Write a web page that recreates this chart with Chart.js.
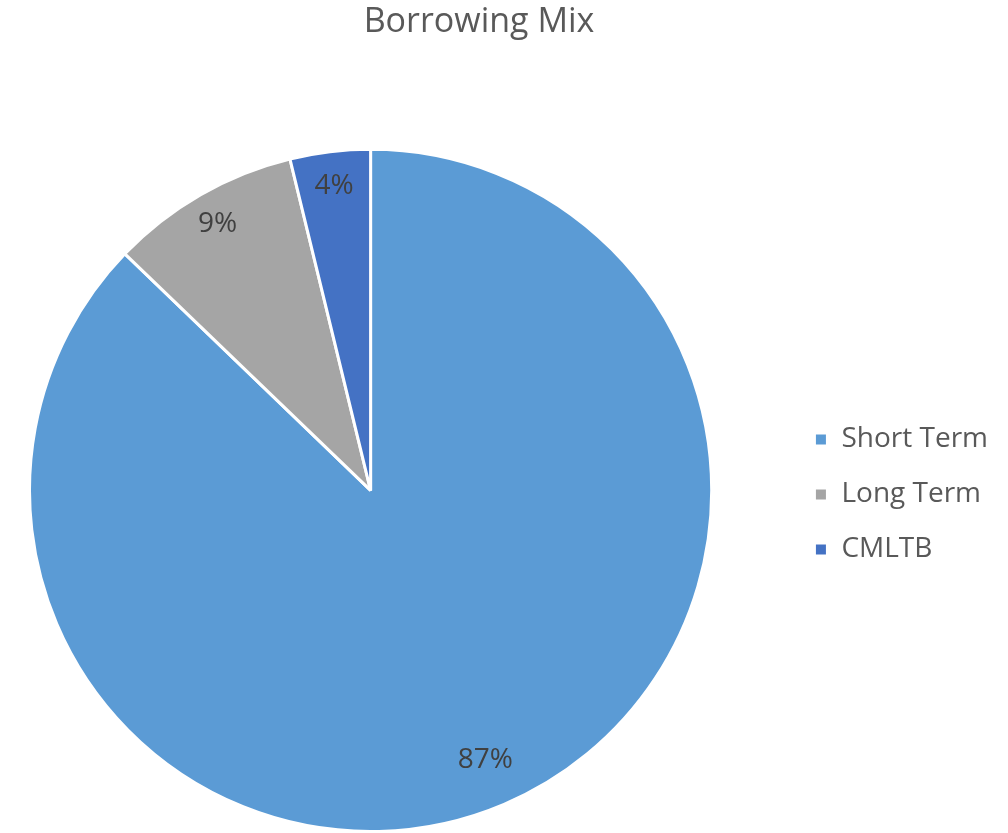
<!DOCTYPE html>
<html>
<head>
<meta charset="utf-8">
<title>Borrowing Mix</title>
<script src="https://cdn.jsdelivr.net/npm/chart.js@4.4.1/dist/chart.umd.min.js"></script>
<style>
  html, body { margin: 0; padding: 0; background: #ffffff; }
  #wrap { width: 1008px; height: 833px; position: relative; }
</style>
</head>
<body>
<div id="wrap"><canvas id="mixChart"></canvas></div>
<script>
// data (share of total borrowing, %)
const categories = ['Short Term', 'Long Term', 'CMLTB'];
const shares = [87.2, 9.0, 3.8];
const sliceColors = ['#5B9BD5', '#A5A5A5', '#4472C4'];

const FONT = "'Open Sans', 'Noto Sans', sans-serif";

// keep the pie square on the left, title centred over pie + legend
const layoutFix = {
    id: 'layoutFix',
    afterLayout(chart) {
        const area = chart.chartArea;
        area.right = area.left + area.bottom - area.top;
        area.width = area.right - area.left;
        if (chart.titleBlock) {
            chart.titleBlock.left = 0;
            chart.titleBlock.right = 958;
            chart.titleBlock.width = 958;
        }
        if (chart.legend) {
            chart.legend.top += 4;
            chart.legend.bottom += 4;
        }
    }
};

// percentage labels inside the slices
const sliceLabels = {
    id: 'sliceLabels',
    afterDatasetsDraw(chart) {
        const ctx = chart.ctx;
        const meta = chart.getDatasetMeta(0);
        const values = chart.data.datasets[0].data;
        const total = values.reduce((a, b) => a + b, 0);
        ctx.save();
        ctx.font = '28px ' + FONT;
        ctx.fillStyle = '#404040';
        ctx.textAlign = 'center';
        ctx.textBaseline = 'middle';
        meta.data.forEach((arc, i) => {
            const p = arc.getProps(['x', 'y', 'startAngle', 'endAngle', 'outerRadius'], true);
            const mid = (p.startAngle + p.endAngle) / 2;
            // big slice: label sits a bit further in
            const r = p.outerRadius * (p.endAngle - p.startAngle > Math.PI ? 0.86 : 0.9);
            const pct = Math.round(values[i] / total * 100) + '%';
            ctx.fillText(pct, p.x + Math.cos(mid) * r, p.y + Math.sin(mid) * r);
        });
        ctx.restore();
    }
};

const ctx = document.getElementById('mixChart').getContext('2d');
const mixChart = new Chart(ctx, {
    type: 'pie',
    data: {
        labels: categories,
        datasets: [{
            data: shares,
            backgroundColor: sliceColors,
            borderColor: '#ffffff',
            borderWidth: 3
        }]
    },
    options: {
        responsive: true,
        maintainAspectRatio: false,
        animation: false,
        layout: {
            padding: { left: 28, right: 10, top: 0, bottom: -5 }
        },
        plugins: {
            title: {
                display: true,
                text: 'Borrowing Mix',
                color: '#595959',
                font: { family: FONT, size: 34, weight: 'normal' },
                padding: { top: 2, bottom: 105 }
            },
            legend: {
                position: 'right',
                fullSize: false,
                labels: {
                    color: '#595959',
                    font: { family: FONT, size: 28 },
                    boxWidth: 13,
                    boxHeight: 13,
                    padding: 27
                }
            },
            tooltip: { enabled: false }
        }
    },
    plugins: [layoutFix, sliceLabels]
});
</script>
</body>
</html>
